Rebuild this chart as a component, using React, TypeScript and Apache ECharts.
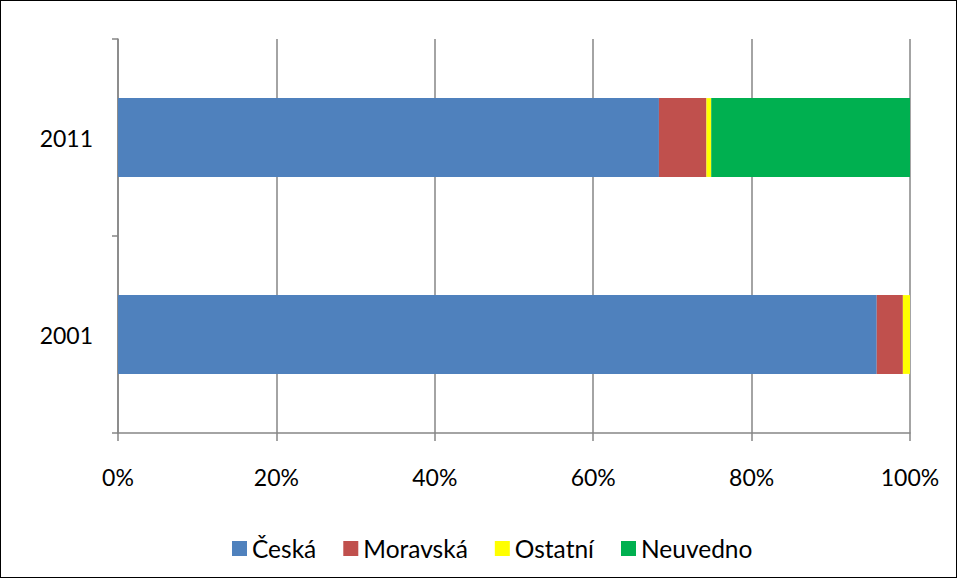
import React, { useEffect, useRef } from "react";
import * as echarts from "echarts";

const categories = ["2001", "2011"];
const seriesNames = ["Česká", "Moravská", "Ostatní", "Neuvedno"];
const ceska = [95.8, 68.3];
const moravska = [3.3, 6.0];
const ostatni = [0.9, 0.6];
const neuvedno = [0, 25.1];
const colors = ["#4F81BD", "#C0504D", "#FFFF00", "#00B050"];

export default function App() {
  const ref = useRef<HTMLDivElement>(null);
  useEffect(() => {
    if (!ref.current) return;
    const chart = echarts.init(ref.current, null, { renderer: "svg" });
    const font = "Lato, 'Noto Sans', sans-serif";
    const values = [ceska, moravska, ostatni, neuvedno];
    chart.setOption({
      animation: false,
      textStyle: { fontFamily: font },
      grid: { left: 117, right: 46, top: 38, bottom: 144, containLabel: false },
      legend: {
        bottom: 16,
        left: 231,
        padding: 0,
        icon: "rect",
        itemWidth: 15,
        itemHeight: 15,
        itemGap: 27,
        textStyle: { fontSize: 24.5, color: "#000", fontFamily: font },
        data: seriesNames,
      },
      xAxis: {
        type: "value",
        min: 0,
        max: 100,
        interval: 20,
        axisLabel: { formatter: "{value}%", fontSize: 23, color: "#000", margin: 32, fontFamily: font },
        axisLine: { show: true, lineStyle: { color: "#868686", width: 1.5 } },
        axisTick: { show: true, length: 8, lineStyle: { color: "#868686", width: 1.5 } },
        splitLine: { show: true, lineStyle: { color: "#868686", width: 1.5 } },
      },
      yAxis: {
        type: "category",
        data: categories,
        axisLabel: { fontSize: 23, color: "#000", margin: 25, fontFamily: font },
        axisLine: { show: true, lineStyle: { color: "#868686", width: 1.5 } },
        axisTick: { show: true, length: 6, alignWithLabel: false, lineStyle: { color: "#868686", width: 1.5 } },
        splitLine: { show: false },
      },
      series: seriesNames.map((name, i) => ({
        name,
        type: "bar",
        stack: "total",
        barWidth: "40%",
        data: values[i],
        itemStyle: { color: colors[i] },
      })),
    });
    return () => chart.dispose();
  }, []);
  return (
    <div
      ref={ref}
      style={{
        position: "absolute",
        left: 0,
        top: 0,
        width: 957,
        height: 578,
        boxSizing: "border-box",
        border: "1px solid #000",
        background: "#fff",
      }}
    />
  );
}
